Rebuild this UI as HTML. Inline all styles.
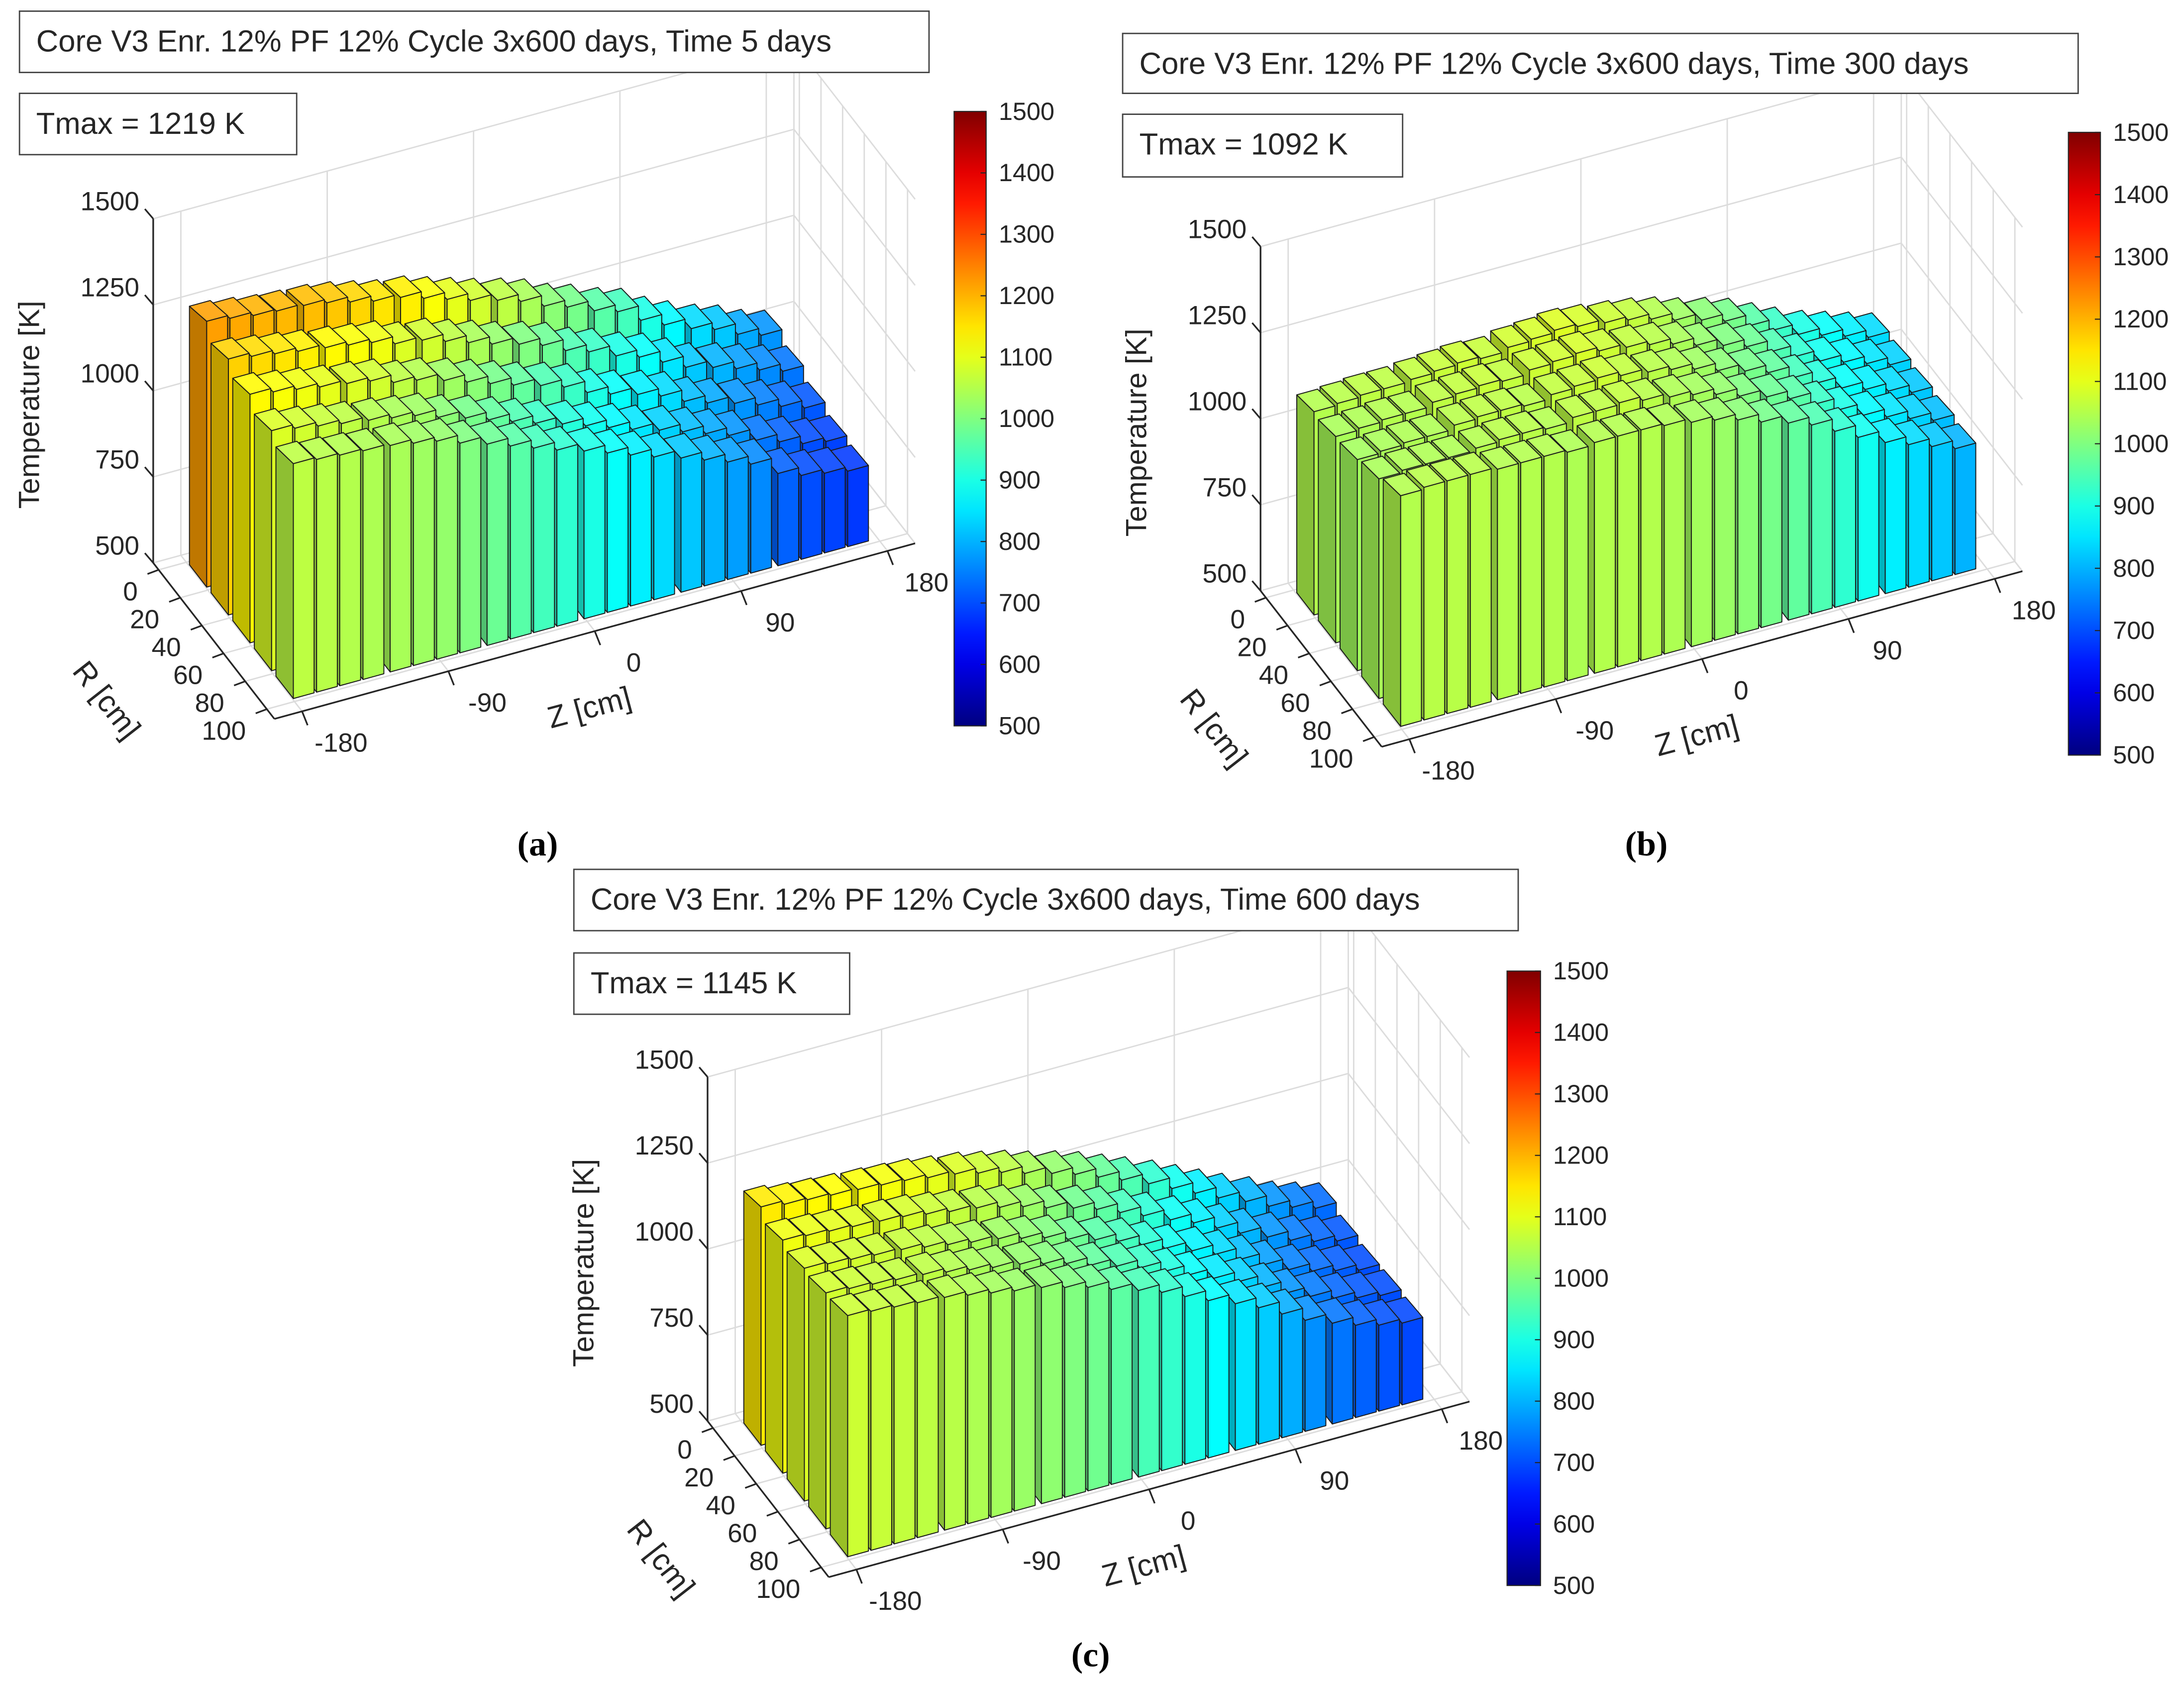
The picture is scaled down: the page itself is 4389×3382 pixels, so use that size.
<!DOCTYPE html>
<html><head><meta charset="utf-8">
<style>
html,body{margin:0;padding:0;background:#fff;}
svg{display:block;}
text{font-family:"Liberation Sans",Arial,sans-serif;fill:#262626;}
.cap{font-family:"Liberation Serif",serif;font-weight:bold;fill:#000;}
</style></head>
<body>
<svg id="fig" xmlns="http://www.w3.org/2000/svg" width="4389" height="3382" viewBox="0 0 1568 1208" preserveAspectRatio="none"></svg>
<script>
const zTicks = [-180, -90, 0, 90, 180];
const rTicks = [0, 20, 40, 60, 80, 100];
const tempTicks = [500, 750, 1000, 1250, 1500];
const cbTicks = [500, 600, 700, 800, 900, 1000, 1100, 1200, 1300, 1400, 1500];
const rCenters = [10, 30, 50, 70, 90];

const tempA_r10 = [1219,1210,1200,1195,1190,1180,1165,1150,1140,1120,1100,1080,1060,1040,1010,990,960,940,900,870,840,820,790,770];
const tempA_r30 = [1170,1160,1150,1140,1130,1120,1110,1090,1080,1060,1040,1020,1000,980,950,930,900,880,850,820,800,780,760,740];
const tempA_r50 = [1130,1120,1110,1100,1090,1080,1060,1050,1030,1010,990,970,950,930,900,880,860,840,810,790,770,750,730,710];
const tempA_r70 = [1090,1080,1070,1060,1050,1040,1030,1010,990,970,950,930,910,890,870,850,830,810,790,770,740,720,700,690];
const tempA_r90 = [1060,1055,1050,1045,1040,1030,1020,1000,980,960,940,920,900,880,860,840,820,800,780,760,720,700,690,680];

const tempB_r10 = [1050,1055,1060,1060,1065,1070,1075,1070,1080,1085,1092,1085,1075,1065,1050,1030,1010,990,960,930,900,880,860,840];
const tempB_r30 = [1040,1045,1050,1050,1060,1065,1070,1065,1075,1080,1085,1075,1065,1055,1040,1020,1000,980,950,920,890,870,850,830];
const tempB_r50 = [1035,1040,1045,1045,1055,1060,1060,1055,1065,1070,1075,1065,1055,1045,1030,1010,990,970,940,910,880,860,840,820];
const tempB_r70 = [1040,1045,1045,1045,1050,1055,1055,1050,1060,1060,1065,1055,1045,1035,1020,1000,980,960,930,900,870,850,830,810];
const tempB_r90 = [1050,1055,1055,1055,1050,1050,1050,1045,1050,1050,1050,1045,1035,1025,1010,990,970,950,920,890,860,840,820,800];

const tempC_r10 = [1145,1135,1130,1125,1120,1115,1110,1100,1090,1075,1060,1040,1020,1000,975,950,920,890,860,830,800,770,750,730];
const tempC_r30 = [1110,1105,1100,1095,1090,1085,1075,1065,1055,1040,1025,1005,985,965,940,915,885,860,830,800,770,745,725,710];
const tempC_r50 = [1090,1085,1080,1075,1070,1060,1050,1040,1030,1015,1000,980,960,940,915,890,865,840,810,780,750,730,715,700];
const tempC_r70 = [1080,1075,1070,1065,1060,1050,1040,1030,1020,1005,990,970,950,930,905,880,855,830,800,770,745,725,710,700];
const tempC_r90 = [1075,1070,1065,1060,1055,1045,1035,1025,1015,1000,985,965,945,925,900,875,850,825,795,765,740,720,705,695];

const titles = ["Core V3 Enr. 12% PF 12% Cycle 3x600 days, Time 5 days","Core V3 Enr. 12% PF 12% Cycle 3x600 days, Time 300 days","Core V3 Enr. 12% PF 12% Cycle 3x600 days, Time 600 days"];
const tmaxLabels = ["Tmax = 1219 K","Tmax = 1092 K","Tmax = 1145 K"];
const captions = ["a","b","c"];

const NS = "http://www.w3.org/2000/svg";
const svg = document.getElementById("fig");
function el(tag, attrs, parent){const e=document.createElementNS(NS,tag);for(const k in attrs)e.setAttribute(k,attrs[k]);(parent||svg).appendChild(e);return e;}
function clamp(v){return Math.max(0,Math.min(1,v));}
function jet(T){const t=clamp((T-500)/1000);return [clamp(1.5-Math.abs(4*t-3)),clamp(1.5-Math.abs(4*t-2)),clamp(1.5-Math.abs(4*t-1))];}
function rgb(c,f){return "rgb("+c.map(v=>Math.round(Math.min(255,v*255*f))).join(",")+")";}
function rgbL(c,a){return "rgb("+c.map(v=>Math.round((v+(1-v)*a)*255)).join(",")+")";}

const defs = el("defs",{});
const grad = el("linearGradient",{id:"jetg",x1:"0",y1:"1",x2:"0",y2:"0"},defs);
for(let i=0;i<=20;i++){const T=500+i*50;el("stop",{offset:(i/20),"stop-color":rgb(jet(T),1)},grad);}

const panels = [
 {ox:110,oy:404,rows:[tempA_r10,tempA_r30,tempA_r50,tempA_r70,tempA_r90],title:[14,8,653,44],tmax:[14,67,199,44],cb:[685,80,23,441],cap:[386,605]},
 {ox:905,oy:424,rows:[tempB_r10,tempB_r30,tempB_r50,tempB_r70,tempB_r90],title:[806,24,686,43],tmax:[806,82,201,45],cb:[1485,95,23,447],cap:[1182,605]},
 {ox:508,oy:1020,rows:[tempC_r10,tempC_r30,tempC_r50,tempC_r70,tempC_r90],title:[412,624,678,44],tmax:[412,684,198,44],cb:[1082,697,24,441],cap:[783,1187]}
];
const EZ=[460,-126], ER=[87,112], ET=-0.247;
const Z0=-197, ZSPAN=394, R0=-5, RSPAN=112;

panels.forEach((p,pi)=>{
  const g = el("g",{});
  
  
  const P=(z,r,T,bar)=>{const fz=(z-Z0)/ZSPAN, fr=(r-R0)/RSPAN;const hs=bar?-(0.255+0.05*fr):ET;
    return [p.ox+fz*EZ[0]+fr*ER[0], p.oy+fz*EZ[1]+fr*ER[1]+(T-500)*hs];};
  const ZA=Z0, ZB=Z0+ZSPAN, RA=R0, RB=R0+RSPAN;
  const pts=a=>a.map(q=>q[0].toFixed(1)+","+q[1].toFixed(1)).join(" ");
  const grid = el("g",{stroke:"#dcdcdc","stroke-width":"1",fill:"none"},g);
  
  
  tempTicks.forEach(T=>{el("polyline",{points:pts([P(ZA,RA,T),P(ZB,RA,T),P(ZB,RB,T)])},grid);});
  el("line",{x1:P(ZB,RA,500)[0],y1:P(ZB,RA,500)[1],x2:P(ZB,RA,1500)[0],y2:P(ZB,RA,1500)[1]},grid);
  zTicks.forEach(z=>{el("line",{x1:P(z,RA,500)[0],y1:P(z,RA,500)[1],x2:P(z,RA,1500)[0],y2:P(z,RA,1500)[1]},grid);
    el("line",{x1:P(z,RA,500)[0],y1:P(z,RA,500)[1],x2:P(z,RB,500)[0],y2:P(z,RB,500)[1]},grid);});
  rTicks.forEach(r=>{el("line",{x1:P(ZB,r,500)[0],y1:P(ZB,r,500)[1],x2:P(ZB,r,1500)[0],y2:P(ZB,r,1500)[1]},grid);
    el("line",{x1:P(ZA,r,500)[0],y1:P(ZA,r,500)[1],x2:P(ZB,r,500)[0],y2:P(ZB,r,500)[1]},grid);});
  el("line",{x1:P(ZB,RA,500)[0],y1:P(ZB,RA,500)[1],x2:P(ZB,RB,500)[0],y2:P(ZB,RB,500)[1]},grid);
  const ax = el("g",{stroke:"#262626","stroke-width":"1.2",fill:"none"},g);
  
  
  el("line",{x1:P(ZA,RA,500)[0],y1:P(ZA,RA,500)[1],x2:P(ZA,RA,1500)[0],y2:P(ZA,RA,1500)[1]},ax);
  el("line",{x1:P(ZA,RA,500)[0],y1:P(ZA,RA,500)[1],x2:P(ZA,RB,500)[0],y2:P(ZA,RB,500)[1]},ax);
  el("line",{x1:P(ZA,RB,500)[0],y1:P(ZA,RB,500)[1],x2:P(ZB,RB,500)[0],y2:P(ZB,RB,500)[1]},ax);
  tempTicks.forEach(T=>{const a=P(ZA,RA,T);el("line",{x1:a[0],y1:a[1],x2:a[0]-6,y2:a[1]-7},ax);
    const t=el("text",{x:a[0]-10,y:a[1]-6,"font-size":"19","text-anchor":"end"},g);t.textContent=T;
    });
  rTicks.forEach(r=>{const a=P(ZA,r,500);el("line",{x1:a[0],y1:a[1],x2:a[0]-8,y2:a[1]+3},ax);
    const t=el("text",{x:a[0]-15,y:a[1]+22,"font-size":"19","text-anchor":"end"},g);t.textContent=r;
    });
  zTicks.forEach(z=>{const a=P(z,RB,500);el("line",{x1:a[0],y1:a[1],x2:a[0]+4,y2:a[1]+10},ax);
    const t=el("text",{x:a[0]+28,y:a[1]+29,"font-size":"19","text-anchor":"middle"},g);t.textContent=z;
    });
  const o=P(ZA,RA,1000);
  const yt=el("text",{x:0,y:0,"font-size":"21","text-anchor":"middle",transform:"translate("+(o[0]-82)+","+(o[1]+10)+") rotate(-90)"},g);yt.textContent="Temperature [K]";
  
  const rl=P(ZA,50,500);
  const rt=el("text",{x:0,y:0,"font-size":"22","text-anchor":"middle",transform:"translate("+(rl[0]-82)+","+(rl[1]+48)+") rotate(52)"},g);rt.textContent="R [cm]";
  
  const zl=P(0,RB,500);
  const zt=el("text",{x:0,y:0,"font-size":"22","text-anchor":"middle",transform:"translate("+(zl[0]-2)+","+(zl[1]+62)+") rotate(-15)"},g);zt.textContent="Z [cm]";
  
  const bars = el("g",{stroke:"#1a1a1a","stroke-width":"0.7","stroke-linejoin":"round"},g);
  
  
  const nZ=p.rows[0].length, wZ=12.8, wR=16;
  const zc=j=>-180+7+j*14.3+Math.floor(j/4)*2.4;
  for(let ri=0;ri<p.rows.length;ri++){
    const rc=rCenters[ri];
    for(let j=nZ-1;j>=0;j--){
      const T=p.rows[ri][j], c=jet(T);
      const z0=zc(j)-wZ/2, z1=zc(j)+wZ/2, r0=rc-wR/2, r1=rc+wR/2;
      const bar=el("g",{},bars);
      
      
      el("polygon",{points:pts([P(z0,r0,500,1),P(z0,r1,500,1),P(z0,r1,T,1),P(z0,r0,T,1)]),fill:rgb(c,0.75)},bar);
      el("polygon",{points:pts([P(z0,r1,500,1),P(z1,r1,500,1),P(z1,r1,T,1),P(z0,r1,T,1)]),fill:rgb(c,1)},bar);
      el("polygon",{points:pts([P(z0,r0,T,1),P(z1,r0,T,1),P(z1,r1,T,1),P(z0,r1,T,1)]),fill:rgbL(c,0.12)},bar);
    }
  }
  const tb=el("rect",{x:p.title[0],y:p.title[1],width:p.title[2],height:p.title[3],fill:"#fff",stroke:"#444","stroke-width":"1"},g);
  
  const tt=el("text",{x:p.title[0]+12,y:p.title[1]+29,"font-size":"22"},g);tt.textContent=titles[pi];
  
  const mb=el("rect",{x:p.tmax[0],y:p.tmax[1],width:p.tmax[2],height:p.tmax[3],fill:"#fff",stroke:"#444","stroke-width":"1"},g);
  
  const mt=el("text",{x:p.tmax[0]+12,y:p.tmax[1]+29,"font-size":"22"},g);mt.textContent=tmaxLabels[pi];
  
  const [cx,cy,cw,ch]=p.cb;
  const cbr=el("rect",{x:cx,y:cy,width:cw,height:ch,fill:"url(#jetg)",stroke:"#262626","stroke-width":"0.8"},g);
  
  cbTicks.forEach(T=>{const y=cy+ch-(T-500)/1000*ch;
    el("line",{x1:cx+cw-4,y1:y,x2:cx+cw,y2:y,stroke:"#262626","stroke-width":"0.8"},g);
    const t=el("text",{x:cx+cw+9,y:y+6,"font-size":"18"},g);t.textContent=T;
    });
  const cp=el("text",{x:p.cap[0],y:p.cap[1]+9,"font-size":"25","text-anchor":"middle",class:"cap"},g);
  cp.textContent="("+captions[pi]+")";
  
});
</script>
</body></html>
